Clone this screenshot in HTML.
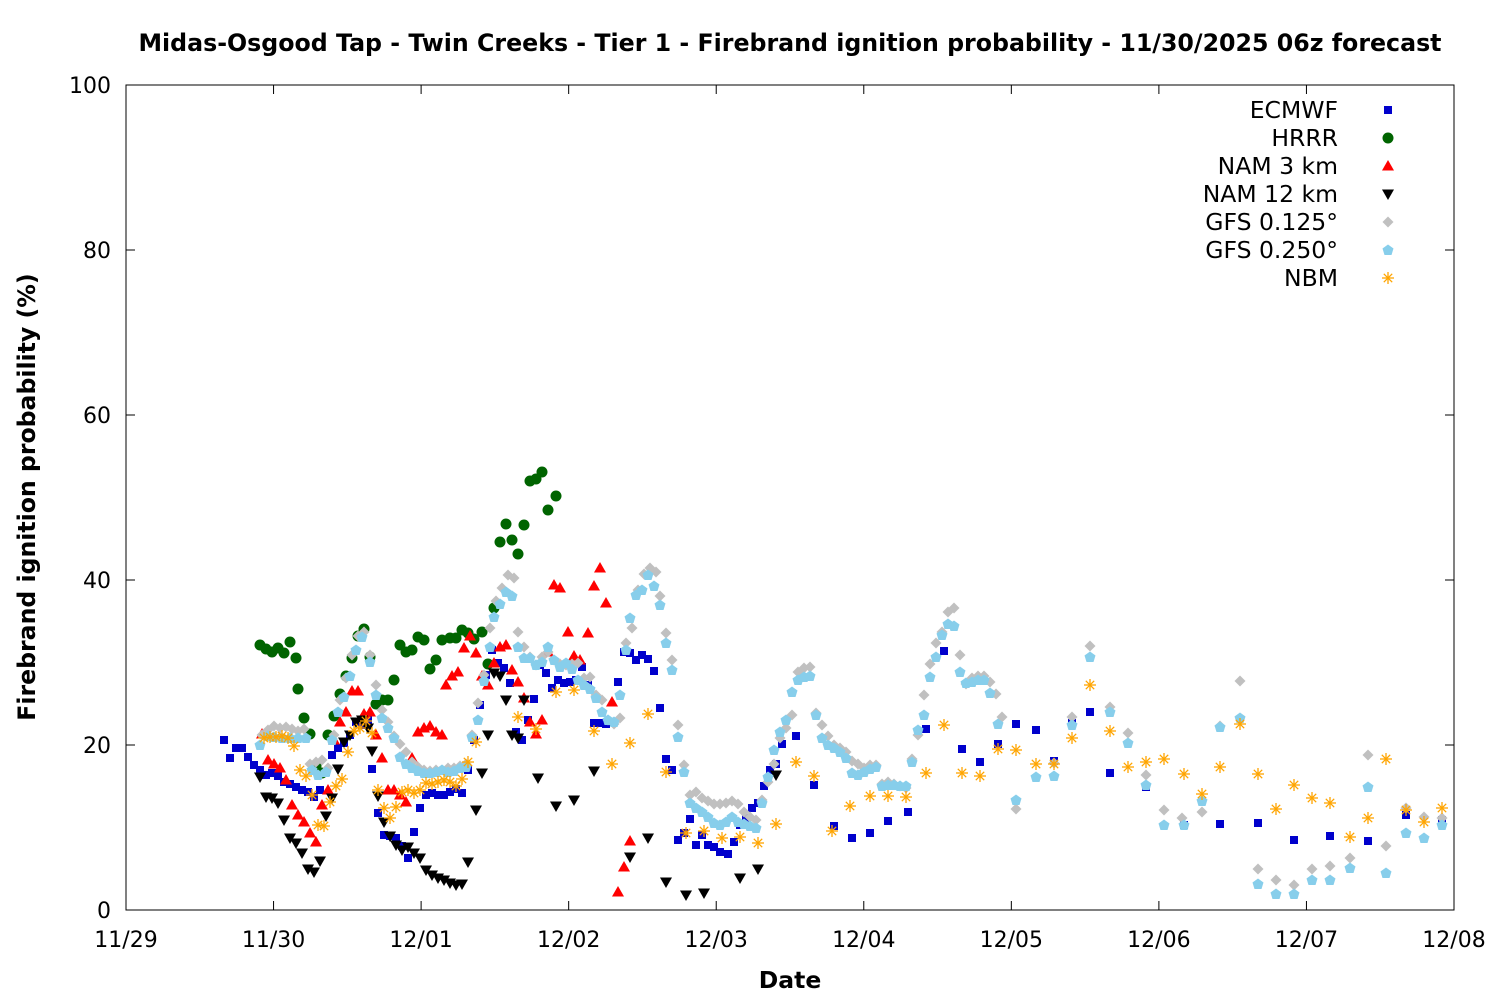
<!DOCTYPE html>
<html><head><meta charset="utf-8"><style>
html,body{margin:0;padding:0;background:#fff}
svg{display:block;font-family:"DejaVu Sans","Liberation Sans",sans-serif}
</style></head><body>
<svg id="s" width="1500" height="1000" xmlns="http://www.w3.org/2000/svg">
<rect width="1500" height="1000" fill="#fff"/>
<text x="790" y="51" text-anchor="middle" font-size="23.7" font-weight="bold">Midas-Osgood Tap - Twin Creeks - Tier 1 - Firebrand ignition probability - 11/30/2025 06z forecast</text>
<text x="790" y="988" text-anchor="middle" font-size="23.5" font-weight="bold">Date</text>
<text transform="translate(35,497) rotate(-90)" text-anchor="middle" font-size="23.6" font-weight="bold">Firebrand ignition probability (%)</text>
<g id="ax" stroke="#000" stroke-width="1" fill="none"><rect x="126" y="85" width="1328" height="825"/></g>
<g id="lab" font-size="22"></g>
<g id="pts"></g>
<g id="leg" font-size="23.5" text-anchor="end"></g>
</svg>
<script>
var NS="http://www.w3.org/2000/svg";
function el(p,t,a,txt){var e=document.createElementNS(NS,t);for(var k in a)e.setAttribute(k,a[k]);if(txt!=null)e.textContent=txt;p.appendChild(e);return e;}
var ax=document.getElementById('ax'),lab=document.getElementById('lab'),pts=document.getElementById('pts'),leg=document.getElementById('leg');
for(var i=0;i<=5;i++){var y=910-i*165;el(ax,'line',{x1:126,y1:y,x2:135,y2:y});el(ax,'line',{x1:1454,y1:y,x2:1445,y2:y});el(lab,'text',{x:111,y:y+8,'text-anchor':'end'},String(i*20));}
var dl=['11/29','11/30','12/01','12/02','12/03','12/04','12/05','12/06','12/07','12/08'];
for(var i=0;i<10;i++){var x=126+i*1328/9;el(ax,'line',{x1:x,y1:910,x2:x,y2:901});el(ax,'line',{x1:x,y1:85,x2:x,y2:94});el(lab,'text',{x:x,y:947,'text-anchor':'middle'},dl[i]);}
function P(s){var a=s.split(/[(),\s]+/).filter(function(v){return v!=='';}).map(Number);var r=[];for(var i=0;i<a.length;i+=2)r.push([a[i],a[i+1]]);return r;}
function mk(g,t,x,y){
 if(t==0)el(g,'rect',{x:x-4,y:y-4,width:8,height:8,fill:'#0000cc'});
 else if(t==1)el(g,'circle',{cx:x,cy:y,r:5.5,fill:'#006400'});
 else if(t==2)el(g,'polygon',{points:(x-6)+','+(y+4.5)+' '+(x+6)+','+(y+4.5)+' '+x+','+(y-6),fill:'#ff0000'});
 else if(t==3)el(g,'polygon',{points:(x-6)+','+(y-4.5)+' '+(x+6)+','+(y-4.5)+' '+x+','+(y+6),fill:'#000'});
 else if(t==4)el(g,'polygon',{points:x+','+(y-5.5)+' '+(x+5.5)+','+y+' '+x+','+(y+5.5)+' '+(x-5.5)+','+y,fill:'#c0c0c0'});
 else if(t==5)el(g,'polygon',{points:x+','+(y-5.5)+' '+(x+5.5)+','+(y-1.5)+' '+(x+3.5)+','+(y+5)+' '+(x-3.5)+','+(y+5)+' '+(x-5.5)+','+(y-1.5),fill:'#87ceeb'});
 else {var c={stroke:'#ffa500','stroke-width':1.3};el(g,'line',Object.assign({x1:x-6,y1:y,x2:x+6,y2:y},c));el(g,'line',Object.assign({x1:x,y1:y-6,x2:x,y2:y+6},c));el(g,'line',Object.assign({x1:x-4.2,y1:y-4.2,x2:x+4.2,y2:y+4.2},c));el(g,'line',Object.assign({x1:x-4.2,y1:y+4.2,x2:x+4.2,y2:y-4.2},c));}
}
var D=[
"(224,740),(230,758),(236,748),(242,748),(248,757),(254,765),(260,770),(266,775),(272,773),(278,776),(284,782),(290,784),(296,787),(302,790),(308,792),(314,797),(320,790),(326,772),(332,755),(338,748),(344,743),(350,735),(356,722),(362,725),(368,720),(372,769),(378,813),(384,835),(390,836),(396,838),(402,846),(408,858),(414,832),(420,808),(426,795),(432,793),(438,795),(444,795),(450,792),(456,789),(462,793),(468,770),(474,740),(480,705),(486,675),(492,650),(498,663),(504,668),(510,683),(516,732),(522,740),(528,720),(534,699),(540,665),(546,673),(552,688),(558,680),(564,683),(570,682),(576,680),(582,667),(588,685),(594,723),(600,723),(606,724),(612,722),(618,682),(624,652),(630,653),(636,660),(642,655),(648,659),(654,671),(660,708),(666,759),(672,770),(678,840),(684,833),(690,819),(696,845),(702,835),(708,845),(714,847),(720,852),(728,854),(734,842),(740,825),(746,818),(752,808),(758,803),(764,786),(770,770),(776,764),(782,744),(796,736),(814,785),(834,826),(852,838),(870,833),(888,821),(908,812),(926,729),(944,651),(962,749),(980,762),(998,744),(1016,724),(1036,730),(1054,761),(1072,723),(1090,712),(1110,773),(1146,787),(1184,825),(1220,824),(1258,823),(1294,840),(1330,836),(1368,841),(1406,815),(1442,820)",
"(260,645),(266,649),(272,652),(278,648),(284,653),(290,642),(296,658),(298,689),(304,718),(310,734),(316,766),(322,773),(328,735),(334,716),(340,694),(346,676),(352,658),(358,636),(364,629),(370,657),(376,704),(382,700),(388,700),(394,680),(400,645),(406,652),(412,650),(418,637),(424,640),(430,669),(436,660),(442,640),(450,638),(456,638),(462,630),(468,633),(474,639),(482,632),(488,664),(494,608),(500,542),(506,524),(512,540),(518,554),(524,525),(530,481),(536,479),(542,472),(548,510),(556,496)",
"(262,734),(268,760),(274,764),(280,768),(286,780),(292,805),(298,815),(304,822),(310,833),(316,842),(322,805),(328,790),(334,740),(340,722),(346,712),(352,691),(358,691),(364,714),(370,712),(376,735),(382,758),(388,790),(394,790),(400,795),(406,802),(412,758),(418,732),(424,728),(430,726),(436,732),(442,735),(446,685),(452,676),(458,672),(464,648),(470,636),(476,653),(482,676),(488,685),(494,663),(500,647),(506,645),(512,670),(518,682),(524,698),(530,722),(536,734),(542,720),(548,652),(554,585),(560,588),(568,632),(574,656),(580,660),(588,633),(594,586),(600,568),(606,603),(612,702),(618,892),(624,867),(630,841)",
"(260,777),(266,797),(272,798),(278,803),(284,820),(290,838),(296,843),(302,853),(308,869),(314,872),(320,861),(326,816),(332,798),(338,769),(344,742),(350,735),(356,722),(362,720),(368,728),(372,751),(378,796),(384,822),(390,836),(396,845),(402,850),(408,847),(414,853),(420,858),(426,870),(432,875),(438,878),(444,880),(450,883),(456,885),(462,884),(468,862),(476,810),(482,773),(488,735),(494,673),(500,676),(506,700),(512,735),(518,738),(524,700),(538,778),(556,806),(574,800),(594,771),(630,857),(648,838),(666,882),(686,895),(704,893),(740,878),(758,869),(776,775)",
"(262,735),(268,730),(274,726),(280,728),(286,727),(292,729),(298,731),(304,729),(310,764),(316,762),(322,760),(328,768),(334,735),(340,700),(346,678),(352,655),(358,636),(364,632),(370,655),(376,685),(382,710),(388,722),(394,736),(400,744),(406,752),(412,762),(418,767),(424,770),(430,771),(436,770),(442,770),(448,768),(454,768),(460,766),(466,764),(472,735),(478,703),(484,675),(490,628),(496,601),(502,588),(508,575),(514,578),(518,632),(524,647),(530,657),(536,665),(542,657),(548,652),(554,660),(560,664),(566,665),(572,664),(578,663),(584,678),(590,677),(596,695),(602,700),(608,720),(614,724),(620,718),(626,643),(632,628),(638,590),(644,574),(650,568),(656,572),(660,596),(666,633),(672,660),(678,725),(684,765),(690,795),(696,792),(702,798),(708,801),(714,804),(720,804),(726,803),(732,801),(738,804),(744,812),(750,817),(756,820),(762,800),(768,782),(774,764),(780,738),(786,728),(792,715),(798,672),(804,668),(810,667),(816,713),(822,725),(828,736),(834,745),(840,748),(846,752),(852,761),(858,764),(864,768),(870,765),(876,765),(882,784),(888,782),(894,784),(900,786),(906,788),(912,759),(918,735),(924,695),(930,664),(936,643),(942,632),(948,612),(954,608),(960,655),(966,684),(972,678),(978,676),(984,676),(990,682),(996,694),(1002,717),(1016,809),(1054,763),(1072,717),(1090,646),(1110,707),(1128,733),(1146,775),(1164,810),(1182,818),(1202,812),(1220,726),(1240,681),(1258,869),(1276,880),(1294,885),(1312,869),(1330,866),(1350,858),(1368,755),(1386,846),(1406,808),(1424,817),(1442,818)",
"(260,745),(268,736),(274,737),(282,738),(290,738),(298,738),(306,738),(312,770),(318,775),(326,772),(332,740),(338,712),(344,697),(350,676),(356,650),(362,637),(370,662),(376,695),(382,718),(388,728),(394,738),(400,757),(406,764),(412,768),(418,771),(424,773),(430,773),(436,772),(442,770),(448,772),(454,771),(460,768),(466,767),(472,737),(478,720),(484,681),(490,647),(494,617),(500,604),(506,592),(512,596),(518,647),(524,658),(530,658),(536,665),(542,662),(548,647),(554,660),(560,667),(566,663),(572,669),(578,680),(584,685),(590,689),(596,698),(602,712),(608,720),(614,722),(620,695),(626,650),(630,618),(636,595),(642,590),(648,575),(654,586),(660,605),(666,643),(672,670),(678,737),(684,772),(690,803),(696,808),(702,812),(708,817),(714,823),(720,825),(726,822),(732,817),(738,822),(744,824),(750,826),(756,828),(762,803),(768,777),(774,750),(780,732),(786,720),(792,692),(798,680),(804,677),(810,676),(816,715),(822,738),(828,745),(834,748),(840,752),(846,758),(852,773),(858,775),(864,772),(870,769),(876,767),(882,786),(888,785),(894,785),(900,786),(906,786),(912,762),(918,730),(924,715),(930,677),(936,657),(942,635),(948,624),(954,626),(960,672),(966,683),(972,682),(978,680),(984,680),(990,693),(998,724),(1016,800),(1036,777),(1054,776),(1072,725),(1090,657),(1110,712),(1128,743),(1146,785),(1164,825),(1184,825),(1202,801),(1220,727),(1240,718),(1258,884),(1276,894),(1294,894),(1312,880),(1330,880),(1350,868),(1368,787),(1386,873),(1406,833),(1424,838),(1442,825)",
"(264,738),(270,737),(276,737),(282,736),(288,738),(294,746),(300,770),(306,776),(312,795),(318,825),(324,826),(330,802),(336,786),(342,779),(348,752),(354,731),(360,728),(366,721),(372,733),(378,790),(384,808),(390,818),(396,807),(402,792),(408,790),(414,793),(420,790),(426,783),(432,784),(438,782),(444,780),(450,782),(456,786),(462,779),(468,762),(476,742),(518,717),(536,729),(556,692),(574,690),(594,731),(612,764),(630,743),(648,714),(666,772),(686,833),(704,831),(722,838),(740,837),(758,843),(776,824),(796,762),(814,776),(832,831),(850,806),(870,796),(888,796),(906,797),(926,773),(944,725),(962,773),(980,776),(998,749),(1016,750),(1036,764),(1054,764),(1072,738),(1090,685),(1110,731),(1128,767),(1146,762),(1164,759),(1184,774),(1202,794),(1220,767),(1240,724),(1258,774),(1276,809),(1294,785),(1312,798),(1330,803),(1350,837),(1368,818),(1386,759),(1406,810),(1424,822),(1442,808)"
];
var names=['ECMWF','HRRR','NAM 3 km','NAM 12 km','GFS 0.125°','GFS 0.250°','NBM'];
for(var t=0;t<7;t++){P(D[t]).forEach(function(p){mk(pts,t,p[0],p[1]);});
 var y=110+t*28;el(leg,'text',{x:1338,y:y+8},names[t]);mk(leg,t,1388,y);}
</script>
</body></html>
